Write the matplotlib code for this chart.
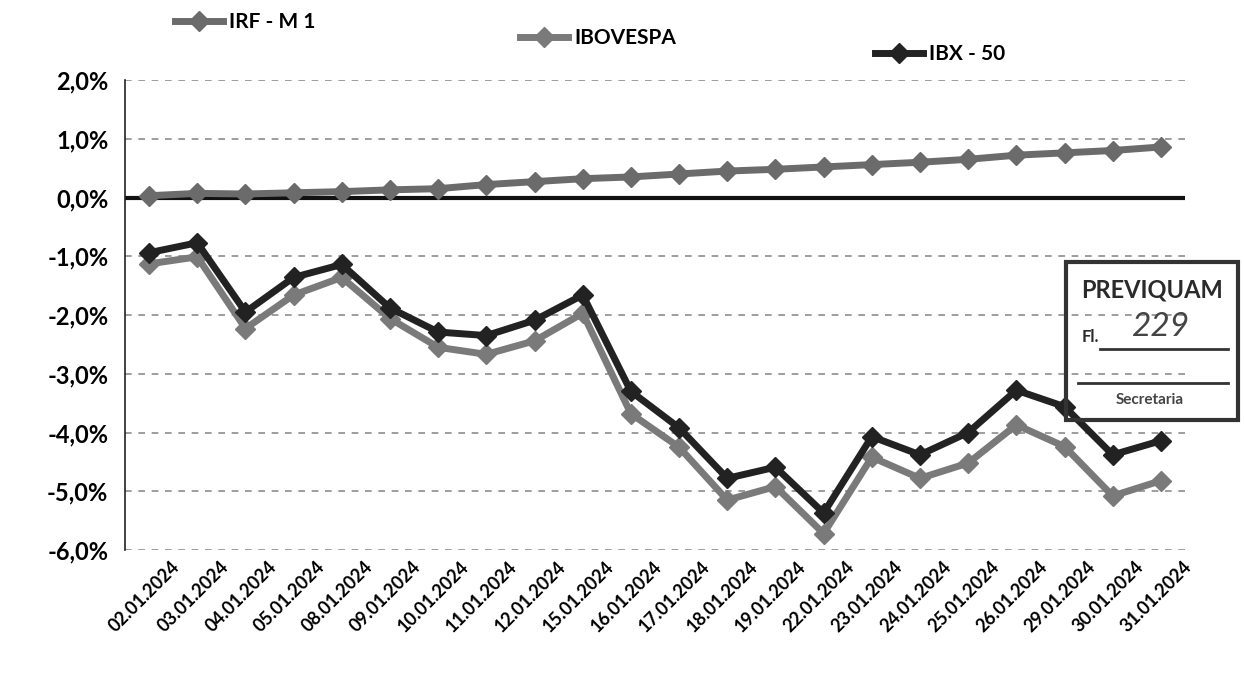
import matplotlib
matplotlib.use("Agg")
import matplotlib.pyplot as plt
import matplotlib.transforms as mtransforms
from matplotlib.lines import Line2D
from matplotlib.patches import Rectangle
from matplotlib.ticker import FuncFormatter, MultipleLocator

dates = ["02.01.2024", "03.01.2024", "04.01.2024", "05.01.2024", "08.01.2024",
         "09.01.2024", "10.01.2024", "11.01.2024", "12.01.2024", "15.01.2024",
         "16.01.2024", "17.01.2024", "18.01.2024", "19.01.2024", "22.01.2024",
         "23.01.2024", "24.01.2024", "25.01.2024", "26.01.2024", "29.01.2024",
         "30.01.2024", "31.01.2024"]

irf_m1 = [0.03, 0.07, 0.06, 0.08, 0.10, 0.13, 0.15, 0.22, 0.27, 0.32, 0.35,
          0.40, 0.45, 0.48, 0.52, 0.56, 0.60, 0.65, 0.72, 0.76, 0.80, 0.86]
ibovespa = [-1.13, -1.01, -2.23, -1.66, -1.36, -2.06, -2.55, -2.67, -2.44, -1.97,
            -3.68, -4.25, -5.15, -4.92, -5.72, -4.42, -4.78, -4.52, -3.87, -4.24,
            -5.08, -4.82]
ibx50 = [-0.94, -0.77, -1.95, -1.36, -1.14, -1.88, -2.29, -2.35, -2.09, -1.66,
         -3.30, -3.92, -4.78, -4.59, -5.37, -4.07, -4.38, -4.00, -3.28, -3.56,
         -4.38, -4.14]

series_names = ["IRF - M 1", "IBOVESPA", "IBX - 50"]
series_colors = ["#6b6b6b", "#7a7a7a", "#222222"]

plt.rcParams['font.family'] = ['Lato', 'DejaVu Sans']

fig = plt.figure(figsize=(12.44, 6.8), dpi=100)
ax = fig.add_axes([125/1244, 1 - 550/680, (1185-125)/1244, (550-80)/680])

x = list(range(len(dates)))
lines = []
for vals, name, col in zip([irf_m1, ibovespa, ibx50], series_names, series_colors):
    ln, = ax.plot(x, vals, color=col, lw=5, marker='D', ms=10, mfc=col, mec=col,
                  solid_joinstyle='miter', label=name, zorder=3)
    lines.append(ln)

ax.set_xlim(-0.5, len(dates) - 0.5)
ax.set_ylim(-6, 2)
ax.yaxis.set_major_locator(MultipleLocator(1))
ax.yaxis.set_major_formatter(FuncFormatter(lambda v, p: f"{v:.1f}%".replace('.', ',')))
ax.grid(axis='y', color='#8c8c8c', linestyle=(0, (4, 4)), lw=1.2)
ax.axhline(0, color='#111111', lw=3, zorder=2)

for s in ['top', 'right', 'bottom']:
    ax.spines[s].set_visible(False)
ax.spines['left'].set_color('#222222')
ax.spines['left'].set_linewidth(1.2)

ax.tick_params(axis='y', length=0, pad=12, labelsize=17)
for lab in ax.get_yticklabels():
    lab.set_fontweight('bold')

ax.set_xticks(x)
ax.set_xticklabels(dates, rotation=45, ha='right', rotation_mode='anchor',
                   fontsize=13, fontweight='bold')
ax.tick_params(axis='x', length=0, pad=6)
offset = mtransforms.ScaledTranslation(22/100, 0, fig.dpi_scale_trans)
for lab in ax.get_xticklabels():
    lab.set_transform(lab.get_transform() + offset)

# legend entries (one row across the top)
leg_pos = [(175/1244, 1 - 22/680), (520/1244, 1 - 38/680), (875/1244, 1 - 54/680)]
for ln, (lx, ly) in zip(lines, leg_pos):
    h = Line2D([], [], color=ln.get_color(), lw=5, marker='D', ms=10)
    fig.legend(handles=[h], labels=[ln.get_label()], loc='center left',
               bbox_to_anchor=(lx, ly), frameon=False, handlelength=2.3,
               handletextpad=0.3, borderaxespad=0, borderpad=0,
               prop={'weight': 'bold', 'size': 15})

# stamp
stamp = Rectangle((1066/1244, 1 - 420/680), (1238-1066)/1244, (420-262)/680,
                  transform=fig.transFigure, fill=False, ec='#333333', lw=3, zorder=10)
fig.add_artist(stamp)
fig.text(1152/1244, 1 - 290/680, "PREVIQUAM", ha='center', va='center',
         fontsize=17, fontweight='bold', color='#2a2a2a')
fig.text(1082/1244, 1 - 337/680, "Fl.", ha='left', va='center', fontsize=12,
         fontweight='bold', color='#2a2a2a')
fig.text(1160/1244, 1 - 327/680, "229", ha='center', va='center', fontsize=24,
         color='#444444', style='italic')
fig.add_artist(Line2D([1100/1244, 1228/1244], [1 - 349/680, 1 - 349/680],
                      transform=fig.transFigure, color='#333333', lw=2))
fig.add_artist(Line2D([1078/1244, 1228/1244], [1 - 383/680, 1 - 383/680],
                      transform=fig.transFigure, color='#333333', lw=2))
fig.text(1150/1244, 1 - 400/680, "Secretaria", ha='center', va='center',
         fontsize=11, fontweight='bold', color='#444444')

fig.savefig("out.png", dpi=100, facecolor='white')
